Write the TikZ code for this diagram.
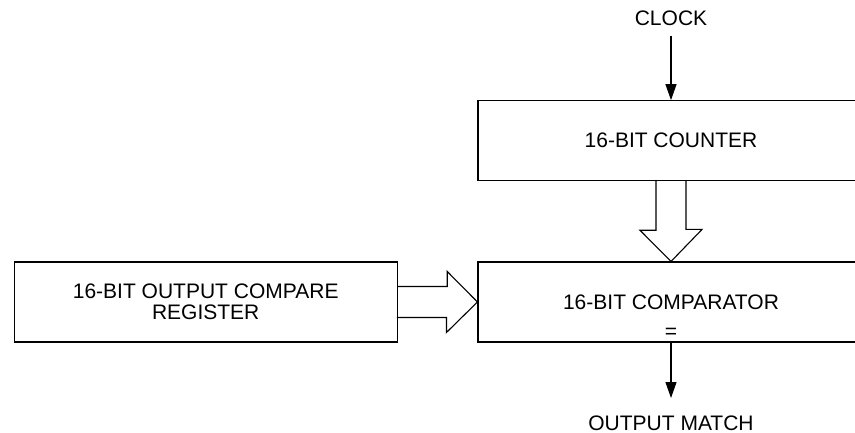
\documentclass[tikz,border=0pt]{standalone}
\usepackage{fontspec}
\setmainfont{Liberation Sans}
\usetikzlibrary{arrows.meta,positioning}
\begin{document}
\begin{tikzpicture}[x=1pt, y=-1pt, >={Triangle[length=16pt,width=11pt]}, line width=1.1pt,
  font=\fontsize{21}{21}\selectfont,
  blk/.style={draw, minimum height=80pt, inner sep=0pt}]
\useasboundingbox (0,0) rectangle (855,433);
\clip (0,0) rectangle (855,433);
\node[blk, minimum width=386pt] (cnt) at (671,140.7) {16-BIT COUNTER};
\node[blk, minimum width=386pt] (cmp) at (671,302) {16-BIT COMPARATOR};
\node[blk, minimum width=383pt, align=center] (reg) at (205.7,302) {16-BIT OUTPUT COMPARE\\REGISTER};
\node (clk) at (671,18) {CLOCK};
\node (out) at (671,423) {OUTPUT MATCH};
\node (eq) at (671,333) {=};
\coordinate (clkin) at (671,35.7);
\coordinate (outend) at (671,398);
\draw[->](clkin)--(cnt.north);
\draw[->](cmp.south)--(outend);
% wide bus arrows
\draw (cnt.south) ++(-15,0) -- ++(0,49) -- ++(-16,0) -- (cmp.north) -- ++(31,-32) -- ++(-16,0) -- ++(0,-49);
\draw (reg.east) ++(0,-15.5) -- ++(49.5,0) -- ++(0,-15) -- (cmp.west) -- ++(-31,30.5) -- ++(0,-15) -- ++(-49.5,0);
\end{tikzpicture}
\end{document}
